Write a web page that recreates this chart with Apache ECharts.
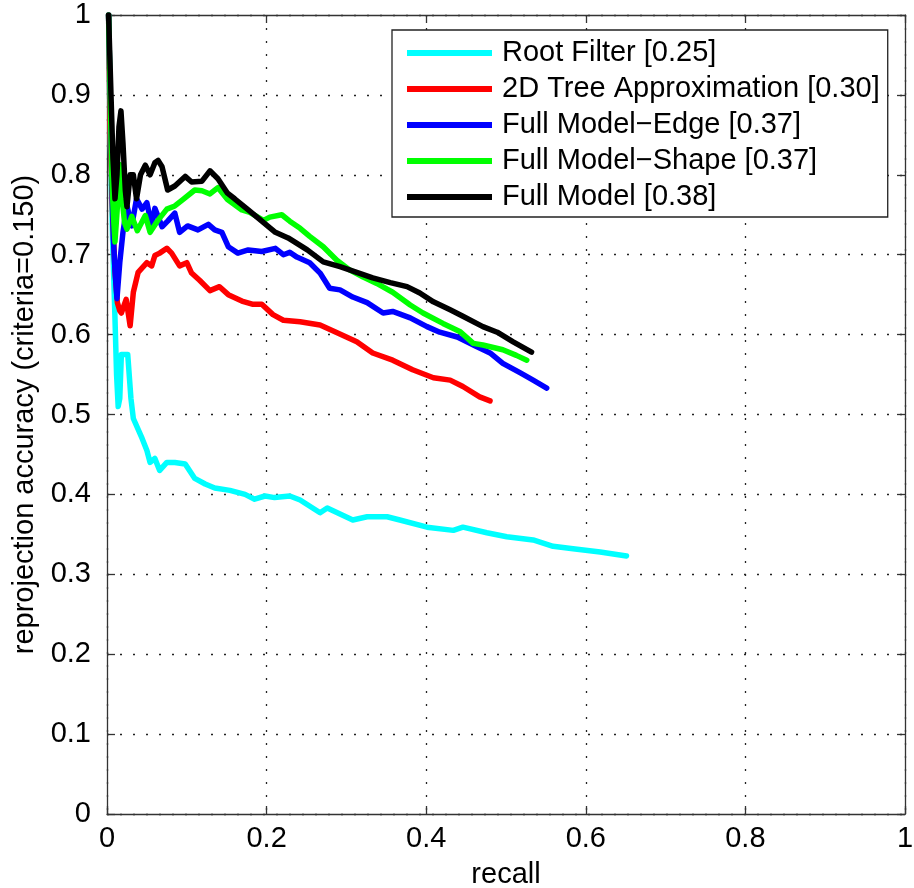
<!DOCTYPE html>
<html>
<head>
<meta charset="utf-8">
<script src="https://cdn.jsdelivr.net/npm/echarts@6/dist/echarts.min.js"></script>
<style>
html,body{margin:0;padding:0;background:#fff;}
#chart{width:914px;height:888px;}
</style>
</head>
<body>
<div id="chart"></div>
<script>
// ---- Data ----
var seriesNames = ['Root Filter [0.25]', '2D Tree Approximation [0.30]', 'Full Model\u2212Edge [0.37]', 'Full Model\u2212Shape [0.37]', 'Full Model [0.38]'];
var xTicks = [0, 0.2, 0.4, 0.6, 0.8, 1];
var yTicks = [0, 0.1, 0.2, 0.3, 0.4, 0.5, 0.6, 0.7, 0.8, 0.9, 1];

var rootRecall = [0.002,0.004,0.007,0.010,0.012,0.014,0.016,0.018,0.026,0.030,0.033,0.044,0.050,0.054,0.060,0.066,0.075,0.085,0.098,0.110,0.123,0.135,0.154,0.173,0.185,0.198,0.210,0.229,0.242,0.267,0.276,0.308,0.326,0.351,0.367,0.401,0.434,0.446,0.476,0.501,0.534,0.559,0.584,0.618,0.651];
var rootAcc    = [1.000,0.850,0.720,0.620,0.550,0.510,0.520,0.575,0.575,0.520,0.495,0.470,0.455,0.440,0.445,0.430,0.440,0.440,0.438,0.420,0.413,0.408,0.405,0.400,0.394,0.398,0.396,0.398,0.393,0.377,0.383,0.368,0.372,0.372,0.368,0.359,0.355,0.359,0.352,0.347,0.343,0.335,0.332,0.328,0.323];

var treeRecall = [0.002,0.004,0.007,0.010,0.013,0.016,0.018,0.024,0.029,0.033,0.039,0.050,0.056,0.060,0.066,0.075,0.081,0.091,0.100,0.106,0.116,0.129,0.141,0.152,0.169,0.182,0.194,0.208,0.221,0.242,0.267,0.287,0.313,0.333,0.358,0.383,0.409,0.430,0.446,0.467,0.480];
var treeAcc    = [1.000,0.850,0.750,0.680,0.640,0.630,0.627,0.644,0.611,0.653,0.678,0.690,0.686,0.699,0.702,0.708,0.702,0.686,0.690,0.677,0.668,0.655,0.660,0.650,0.642,0.638,0.638,0.625,0.618,0.616,0.612,0.603,0.591,0.577,0.568,0.556,0.546,0.543,0.535,0.522,0.517];

var edgeRecall = [0.002,0.004,0.006,0.008,0.010,0.0125,0.016,0.020,0.025,0.031,0.037,0.044,0.050,0.056,0.060,0.069,0.076,0.085,0.091,0.101,0.114,0.127,0.135,0.144,0.152,0.164,0.177,0.194,0.211,0.221,0.229,0.238,0.254,0.267,0.279,0.292,0.308,0.326,0.346,0.358,0.380,0.401,0.417,0.439,0.463,0.480,0.496,0.518,0.534,0.551];
var edgeAcc    = [1.000,0.900,0.800,0.720,0.680,0.645,0.690,0.728,0.761,0.736,0.770,0.757,0.765,0.736,0.758,0.735,0.742,0.752,0.728,0.736,0.731,0.738,0.731,0.728,0.710,0.702,0.706,0.704,0.708,0.700,0.703,0.697,0.690,0.677,0.658,0.656,0.647,0.640,0.627,0.629,0.621,0.610,0.603,0.597,0.585,0.577,0.564,0.552,0.543,0.533];

var shapeRecall = [0.002,0.004,0.006,0.008,0.010,0.013,0.016,0.019,0.022,0.025,0.031,0.038,0.048,0.054,0.063,0.075,0.085,0.095,0.110,0.119,0.129,0.139,0.151,0.169,0.179,0.196,0.204,0.219,0.229,0.242,0.254,0.271,0.288,0.304,0.321,0.338,0.358,0.380,0.396,0.421,0.442,0.459,0.471,0.496,0.513,0.526];
var shapeAcc    = [1.000,0.900,0.800,0.750,0.716,0.760,0.813,0.770,0.740,0.732,0.748,0.730,0.749,0.728,0.742,0.757,0.761,0.769,0.781,0.780,0.776,0.784,0.769,0.756,0.753,0.743,0.747,0.750,0.742,0.733,0.723,0.710,0.693,0.681,0.672,0.664,0.653,0.637,0.627,0.614,0.604,0.589,0.587,0.581,0.574,0.568];

var fullRecall = [0.002,0.005,0.0075,0.010,0.0125,0.015,0.0175,0.020,0.023,0.025,0.029,0.033,0.037,0.042,0.048,0.054,0.060,0.064,0.069,0.076,0.085,0.098,0.106,0.119,0.129,0.139,0.151,0.160,0.177,0.194,0.211,0.227,0.251,0.271,0.292,0.313,0.333,0.355,0.376,0.392,0.409,0.430,0.446,0.471,0.489,0.509,0.532];
var fullAcc    = [1.000,0.900,0.820,0.770,0.800,0.860,0.880,0.840,0.780,0.760,0.800,0.800,0.770,0.800,0.812,0.800,0.815,0.818,0.810,0.781,0.786,0.798,0.791,0.792,0.805,0.795,0.777,0.770,0.756,0.742,0.728,0.721,0.706,0.691,0.685,0.678,0.671,0.665,0.660,0.652,0.641,0.631,0.623,0.610,0.603,0.591,0.578];

var colors = ['#00FFFF', '#FF0000', '#0000FF', '#00FF00', '#000000'];

function pairs(xs, ys) { return xs.map(function (x, i) { return [x, ys[i]]; }); }
var dataSets = [
  pairs(rootRecall, rootAcc),
  pairs(treeRecall, treeAcc),
  pairs(edgeRecall, edgeAcc),
  pairs(shapeRecall, shapeAcc),
  pairs(fullRecall, fullAcc)
];

var FONT = 'Liberation Sans, Arial, Helvetica, sans-serif';
var NARROW = 'Liberation Sans Narrow, Arial Narrow, Liberation Sans, sans-serif';
var gridLine = { show: true, lineStyle: { color: '#222', width: 1.3, type: [2, 11] } };
var frameLine = { show: true, onZero: false, lineStyle: { color: '#333', width: 1.3 } };
var tickIn = { show: true, inside: true, length: 8, lineStyle: { color: '#333', width: 1.3 } };

var chart = echarts.init(document.getElementById('chart'), null, { renderer: 'canvas' });
chart.setOption({
  backgroundColor: '#ffffff',
  animation: false,
  grid: { left: 107, right: 9, top: 15, bottom: 74, containLabel: false, outerBoundsMode: 'none' },
  legend: {
    data: seriesNames,
    left: 392, top: 30,
    orient: 'vertical',
    backgroundColor: '#fff',
    borderColor: '#222', borderWidth: 1.3,
    padding: [8, 8, 5, 15],
    itemWidth: 85, itemHeight: 6, itemGap: 6,
    icon: 'rect',
    textStyle: { fontFamily: FONT, fontSize: 29, color: '#000', lineHeight: 30, padding: [0, 0, 0, 5] }
  },
  xAxis: [{
    type: 'value', min: 0, max: 1, interval: 0.2,
    name: 'recall', nameLocation: 'middle', nameGap: 46,
    nameTextStyle: { fontFamily: FONT, fontSize: 29, color: '#000' },
    axisLine: frameLine, axisTick: tickIn,
    axisLabel: { fontFamily: NARROW, fontSize: 29, color: '#000', margin: 10,
      formatter: function (v) { return String(+v.toFixed(1)); } },
    splitLine: gridLine
  }, {
    type: 'value', min: 0, max: 1, interval: 0.2, position: 'top',
    axisLine: frameLine, axisTick: tickIn, axisLabel: { show: false }, splitLine: { show: false }
  }],
  yAxis: [{
    type: 'value', min: 0, max: 1, interval: 0.1,
    name: 'reprojection accuracy (criteria=0.150)', nameLocation: 'middle', nameGap: 60, nameRotate: 90,
    nameTextStyle: { fontFamily: FONT, fontSize: 29, color: '#000' },
    axisLine: frameLine, axisTick: tickIn,
    axisLabel: { fontFamily: NARROW, fontSize: 29, color: '#000', margin: 16,
      formatter: function (v) { return String(+v.toFixed(1)); } },
    splitLine: gridLine
  }, {
    type: 'value', min: 0, max: 1, interval: 0.1, position: 'right',
    axisLine: frameLine, axisTick: tickIn, axisLabel: { show: false }, splitLine: { show: false }
  }],
  series: seriesNames.map(function (n, i) {
    return {
      name: n, type: 'line', data: dataSets[i],
      xAxisIndex: 0, yAxisIndex: 0,
      showSymbol: false, symbol: 'none',
      color: colors[i],
      lineStyle: { color: colors[i], width: 5.5, join: 'round', cap: 'round' },
      z: 3 + i
    };
  })
});
</script>
</body>
</html>
